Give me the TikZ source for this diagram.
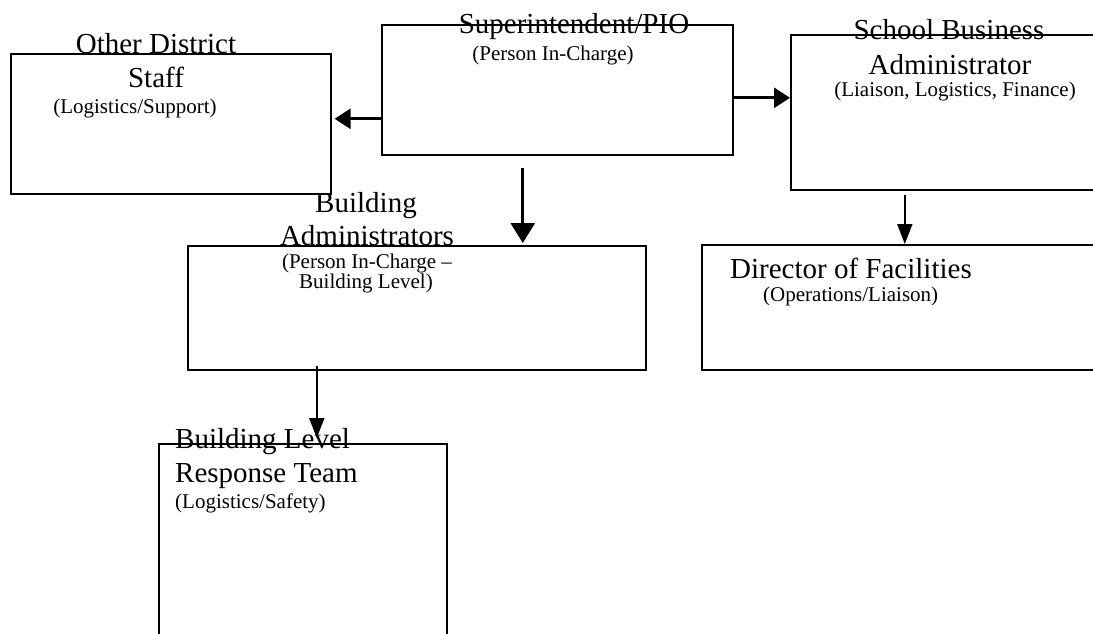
\documentclass[tikz,border=0pt]{standalone}
\usepackage{fontspec}
\setmainfont{Liberation Serif}
\usetikzlibrary{arrows.meta}

\begin{document}
\begin{tikzpicture}[x=1pt,y=-1pt,
    box/.style={draw, line width=1.6pt, anchor=north west, inner sep=0pt},
    big/.style={inner sep=0pt, font=\fontsize{29}{29}\selectfont},
    small/.style={inner sep=0pt, font=\fontsize{21}{18}\selectfont},
    link/.style={-{Triangle[length=16pt,width=20pt]}, line width=2.8pt},
    downlink/.style={-{Triangle[length=20pt,width=24pt]}, line width=2.8pt},
    thinlink/.style={-{Triangle[length=20pt,width=15pt]}, line width=1.8pt}]
\useasboundingbox (0,0) rectangle (1093,633);
\clip (0,0) rectangle (1093,633);

  \node[box, minimum width=320pt, minimum height=140pt] (other) at (10,53) {};
  \node[box, minimum width=351pt, minimum height=130pt] (sup) at (381,24) {};
  \node[box, minimum width=330pt, minimum height=155pt] (sba) at (790,34) {};
  \node[box, minimum width=420pt, minimum height=125pt] (dir) at (701,244) {};
  \node[box, minimum width=458pt, minimum height=124pt] (badm) at (187,245) {};
  \node[box, minimum width=288pt, minimum height=220pt] (blrt) at (158,443) {};

  \node[big, anchor=base] (othert) at (156,53) {Other District};
  \node[big, anchor=base] (otherb) at (156,87) {Staff};
  \node[small, anchor=base] (otherr) at (135,113) {(Logistics/Support)};

  \node[big, anchor=base] (supt) at (574,33) {Superintendent/PIO};
  \node[small, anchor=base] (supr) at (553,60) {(Person In-Charge)};

  \node[big, anchor=base] (sbat) at (949,39) {School Business};
  \node[big, anchor=base] (sbab) at (950,74) {Administrator};
  \node[small, anchor=base] (sbar) at (955,96) {(Liaison, Logistics, Finance)};

  \node[big, anchor=base west] (dirt) at (730,278) {Director of Facilities};
  \node[small, anchor=base west] (dirr) at (763,301) {(Operations/Liaison)};

  \node[big, anchor=base] (badmt) at (366,212) {Building};
  \node[big, anchor=base] (badmb) at (367,245) {Administrators};
  \node[small, anchor=base] (badmr) at (367,268) {(Person In-Charge --};
  \node[small, anchor=base] (badms) at (366,288) {Building Level)};

  \node[big, anchor=base west] (blrtt) at (175,448) {Building Level};
  \node[big, anchor=base west] (blrtb) at (175,482) {Response Team};
  \node[small, anchor=base west] (blrtr) at (175,508) {(Logistics/Safety)};

  \coordinate (supw) at ([yshift=-29pt]sup.west);
  \coordinate (supe) at ([yshift=-8pt]sup.east);
  \coordinate (sups) at ([xshift=-34.5pt,yshift=-12pt]sup.south);
  \coordinate (sbas) at ([xshift=-51pt,yshift=-4pt]sba.south);
  \coordinate (badmsrc) at ([xshift=-100pt,yshift=5pt]badm.south);

  \draw[link, shorten <=-2pt, shorten >=3pt] (supw) -- (other.east |- supw);
  \draw[link] (supe) -- (sba.west |- supe);
  \draw[downlink, shorten >=2pt] (sups) -- (badm.north -| sups);
  \draw[thinlink] (sbas) -- (dir.north -| sbas);
  \draw[thinlink, shorten >=5pt] (badmsrc) -- (blrt.north -| badmsrc);
\end{tikzpicture}
\end{document}
